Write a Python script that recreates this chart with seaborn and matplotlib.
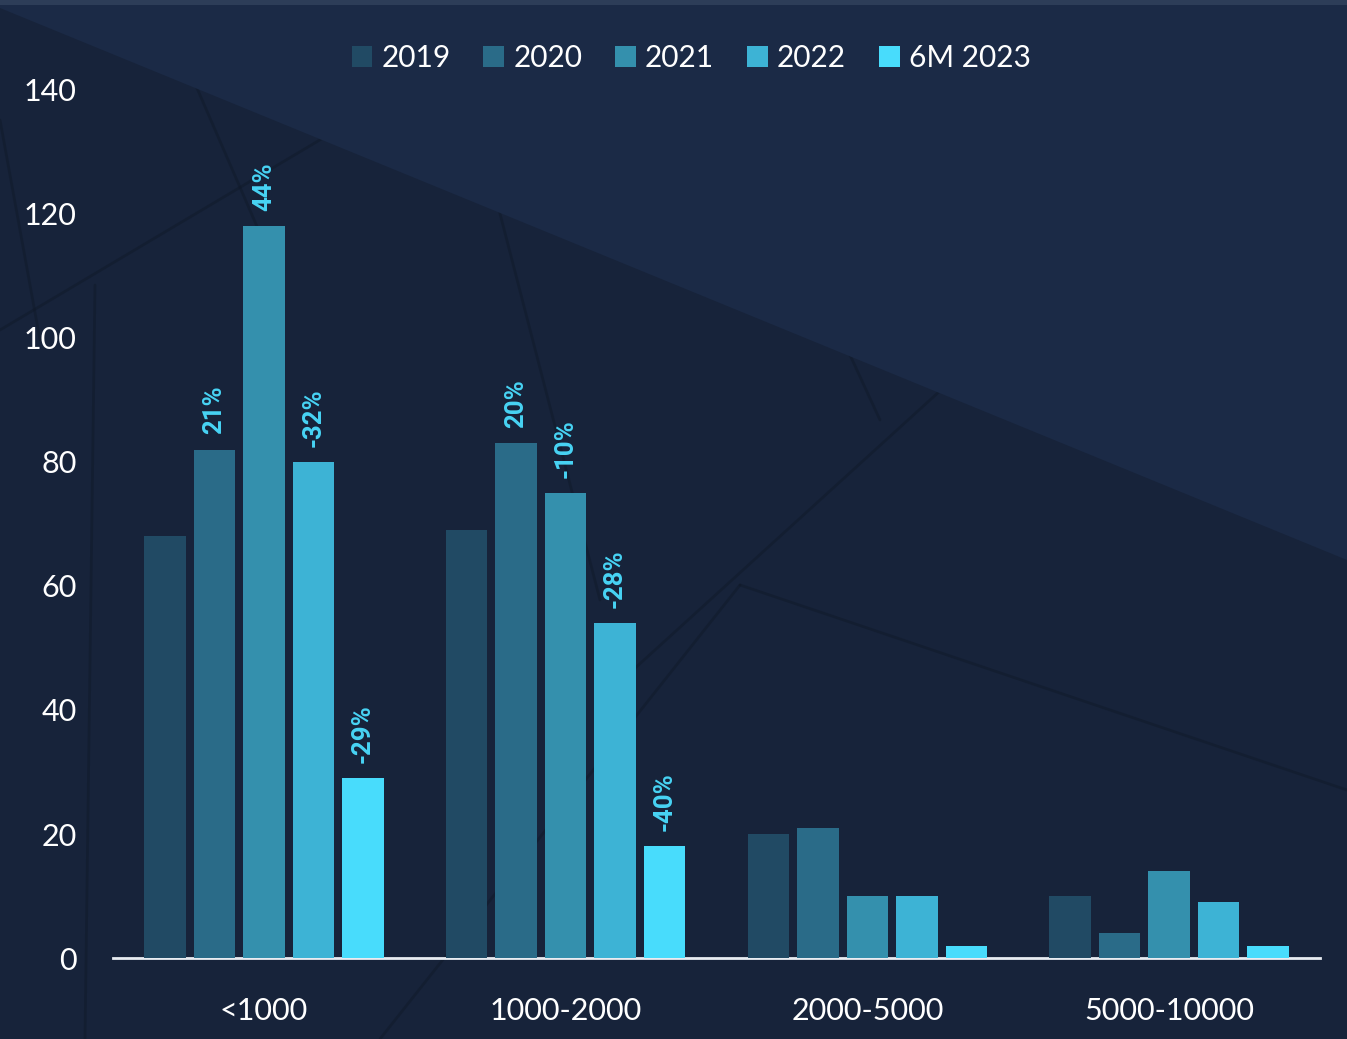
import matplotlib
matplotlib.use("Agg")
import matplotlib.pyplot as plt
import seaborn as sns
import pandas as pd
from matplotlib.patches import Polygon, Patch
from matplotlib.lines import Line2D

# ---- data ----
categories = ["<1000", "1000-2000", "2000-5000", "5000-10000"]
series = ["2019", "2020", "2021", "2022", "6M 2023"]
v2019 = [68, 69, 20, 10]
v2020 = [82, 83, 21, 4]
v2021 = [118, 75, 10, 14]
v2022 = [80, 54, 10, 9]
v6m2023 = [29, 18, 2, 2]
pct2019 = ["", "", "", ""]
pct2020 = ["21%", "20%", "", ""]
pct2021 = ["44%", "-10%", "", ""]
pct2022 = ["-32%", "-28%", "", ""]
pct6m2023 = ["-29%", "-40%", "", ""]
yticks = [0, 20, 40, 60, 80, 100, 120, 140]

values = [v2019, v2020, v2021, v2022, v6m2023]
pcts = [pct2019, pct2020, pct2021, pct2022, pct6m2023]
colors = ["#214a64", "#2a6b88", "#3490ad", "#3db3d5", "#48dcfc"]

rows = []
for s, vals in zip(series, values):
    for c, v in zip(categories, vals):
        rows.append({"category": c, "series": s, "value": v})
df = pd.DataFrame(rows)

sns.set_theme(style="white")
plt.rcParams["font.family"] = ["Lato", "DejaVu Sans"]

BG = "#17233a"
fig = plt.figure(figsize=(13.47, 10.39), dpi=100)
fig.patch.set_facecolor(BG)

# decorative background
W, H = 1347, 1039
def fc(x, y):
    return (x / W, 1 - y / H)
fig.patches.append(Polygon([fc(0, 8), fc(0, 0), fc(W, 0), fc(W, 560)], closed=True,
                           transform=fig.transFigure, facecolor="#1b2a46", edgecolor="none", zorder=0))
fig.patches.append(Polygon([fc(0, 0), fc(W, 0), fc(W, 5), fc(0, 5)], closed=True,
                           transform=fig.transFigure, facecolor="#2d3d58", edgecolor="none", zorder=0))
deco = [((0, 330), (345, 125)), ((190, 72), (262, 238)), ((0, 120), (40, 340)),
        ((490, 175), (600, 600)), ((820, 290), (880, 420)), ((600, 700), (985, 350)),
        ((985, 350), (1347, 545)), ((740, 585), (1347, 790)), ((380, 1039), (740, 585)),
        ((95, 285), (85, 1039))]
for (a, b) in deco:
    fig.lines.append(Line2D([a[0] / W, b[0] / W], [1 - a[1] / H, 1 - b[1] / H],
                            transform=fig.transFigure, color="#0f1828", lw=2.0, alpha=0.45, zorder=0))

ax = fig.add_axes([113 / W, 1 - 958 / H, (1320 - 113) / W, (958 - 59) / H])
ax.set_facecolor("none")
ax.set_zorder(3)

sns.barplot(data=df, x="category", y="value", hue="series", hue_order=series,
            order=categories, palette=colors, width=0.82, gap=0.16, saturation=1,
            edgecolor="none", ax=ax, legend=False, zorder=3)

ax.set_xlim(-0.5, 3.5)
ax.set_ylim(0, 145)
ax.set_yticks(yticks)
ax.set_yticklabels([str(t) for t in yticks])
ax.set_xlabel("")
ax.set_ylabel("")
for sp in ["top", "right", "left"]:
    ax.spines[sp].set_visible(False)
ax.spines["bottom"].set_color("#e8ecf2")
ax.spines["bottom"].set_linewidth(2)
ax.tick_params(axis="y", length=0, labelsize=22, labelcolor="white", pad=26)
ax.tick_params(axis="x", length=0, labelsize=22, labelcolor="white", pad=28)
ax.grid(False)

for cont, labels in zip(ax.containers, pcts):
    ax.bar_label(cont, labels=labels, rotation=90, padding=11, color="#48d4f5",
                 fontsize=18.5, fontweight="bold", family=["Roboto", "DejaVu Sans"])

handles = [Patch(facecolor=c, edgecolor="none") for c in colors]
fig.legend(handles, series, loc="center", bbox_to_anchor=(691 / W, 1 - 58 / H), ncol=5,
           frameon=False, fontsize=21.5, labelcolor="white", handlelength=0.7, handleheight=0.7,
           handletextpad=0.3, columnspacing=1.1)

fig.savefig("out.png", dpi=100, facecolor=BG)
